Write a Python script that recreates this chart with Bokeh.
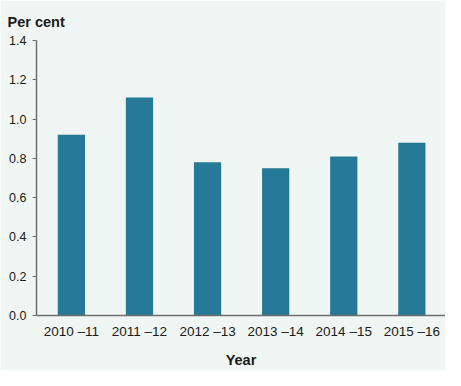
from bokeh.plotting import figure
from bokeh.models import FixedTicker, Range1d, PrintfTickFormatter
from bokeh.embed import file_html
from bokeh.resources import INLINE

# ---- data ----
years = ["2010 \u201311", "2011 \u201312", "2012 \u201313", "2013 \u201314", "2014 \u201315", "2015 \u201316"]
per_cent = [0.92, 1.11, 0.78, 0.75, 0.81, 0.88]
y_ticks = [0.0, 0.2, 0.4, 0.6, 0.8, 1.0, 1.2, 1.4]

positions = list(range(len(years)))

BG = "#f0f6f3"
BAR = "#267a98"
AXIS = "#6e6e6e"
TEXT = "#1a1a1a"
FONT = "Liberation Sans"

p = figure(width=445, height=370, output_backend="svg", toolbar_location=None,
           x_range=Range1d(-0.512, 5.494), y_range=Range1d(0, 1.4),
           min_border_left=36, min_border_right=0, min_border_top=38, min_border_bottom=54)

p.background_fill_color = BG
p.border_fill_color = BG
p.outline_line_color = None
p.xgrid.grid_line_color = None
p.ygrid.grid_line_color = None

p.vbar(x=positions, top=per_cent, width=0.4, bottom=0, fill_color=BAR, line_color=None)

# title
p.title.text = "Per cent"
p.title.text_font = FONT
p.title.text_font_size = "14.5px"
p.title.text_font_style = "bold"
p.title.text_color = TEXT
p.title.align = "left"
p.title.offset = -29
p.title.standoff = 22

# y axis
ya = p.yaxis[0]
ya.ticker = FixedTicker(ticks=y_ticks)
ya.formatter = PrintfTickFormatter(format="%.1f")
ya.axis_line_color = AXIS
ya.axis_line_width = 1.5
ya.major_tick_line_color = AXIS
ya.major_tick_line_width = 1.2
ya.major_tick_out = 4
ya.major_tick_in = 0
ya.minor_tick_line_color = None
ya.major_label_text_font = FONT
ya.major_label_text_font_size = "12.5px"
ya.major_label_text_color = TEXT
ya.major_label_standoff = 6

# x axis
xa = p.xaxis[0]
xa.ticker = FixedTicker(ticks=positions)
xa.major_label_overrides = {i: y for i, y in zip(positions, years)}
xa.axis_line_color = AXIS
xa.axis_line_width = 1.5
xa.major_tick_line_color = None
xa.major_tick_out = 0
xa.major_tick_in = 0
xa.minor_tick_line_color = None
xa.major_label_text_font = FONT
xa.major_label_text_font_size = "13.5px"
xa.major_label_text_color = TEXT
xa.major_label_standoff = 8
xa.axis_label = "Year"
xa.axis_label_text_font = FONT
xa.axis_label_text_font_size = "14.5px"
xa.axis_label_text_font_style = "bold"
xa.axis_label_text_color = TEXT
xa.axis_label_standoff = 10

open("out.html", "w").write(file_html(p, INLINE))
